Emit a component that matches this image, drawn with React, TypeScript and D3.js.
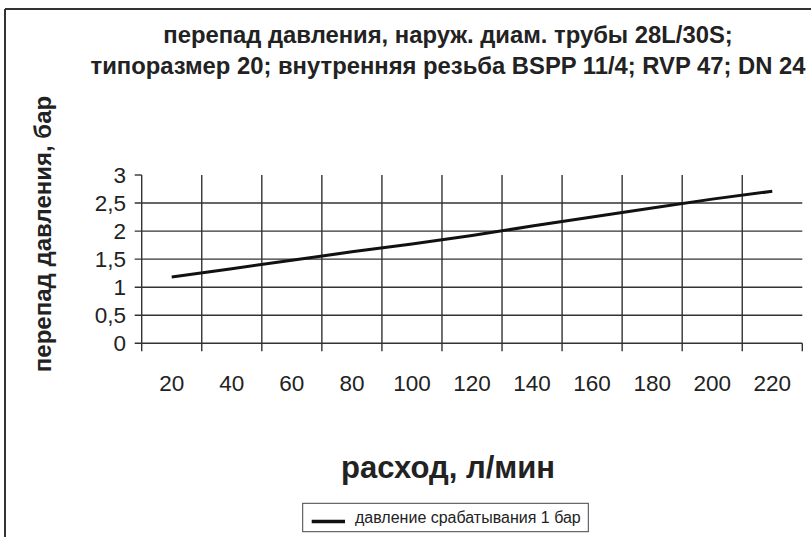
import React from "react";
import * as d3 from "d3";

const categories = ["20", "40", "60", "80", "100", "120", "140", "160", "180", "200", "220"];
const seriesValues = [1.18, 1.33, 1.48, 1.63, 1.77, 1.92, 2.09, 2.25, 2.41, 2.57, 2.71];
const yTicks = [0, 0.5, 1, 1.5, 2, 2.5, 3];
const yTickLabels = ["0", "0,5", "1", "1,5", "2", "2,5", "3"];
const titleLines = [
  "перепад давления, наруж. диам. трубы 28L/30S;",
  "типоразмер 20; внутренняя резьба BSPP 11/4; RVP 47; DN 24",
];
const yTitle = "перепад давления, бар";
const xTitle = "расход, л/мин";
const legendLabel = "давление срабатывания 1 бар";

const W = 811;
const H = 537;
const FONT = "'Liberation Sans', Arial, Helvetica, sans-serif";
const INK = "#222";
const GRID = "#333";

export default function App() {
  const x = d3.scaleBand<string>().domain(categories).range([141.7, 802.3]).padding(0);
  const y = d3.scaleLinear().domain([0, 3]).range([343.3, 175]);
  const [x0, x1] = x.range();
  const bw = x.bandwidth();
  const yTop = y(3);
  const yBot = y(0);
  const tick = 7;

  const line = d3
    .line<number>()
    .x((_, i) => (x(categories[i]) as number) + bw / 2)
    .y((d) => y(d));

  const vLines = categories.map((c) => x(c) as number).slice(1);

  return (
    <svg
      width={W}
      height={H}
      style={{ position: "absolute", left: 0, top: 0, background: "#fff" }}
      fontFamily={FONT}
    >
      {/* frame */}
      <line x1={5} y1={9} x2={W} y2={9} stroke="#333" strokeWidth={2} />
      <line x1={5} y1={9} x2={5} y2={H} stroke="#333" strokeWidth={2} />

      {/* title */}
      {titleLines.map((t, i) => (
        <text
          key={i}
          x={448}
          y={43 + i * 31}
          textAnchor="middle"
          fontSize={23.8}
          fontWeight="bold"
          fill={INK}
        >
          {t}
        </text>
      ))}

      {/* horizontal grid */}
      {yTicks.map((v) => (
        <line
          key={"h" + v}
          x1={x0 - tick}
          x2={v === 3 ? x0 : x1}
          y1={y(v)}
          y2={y(v)}
          stroke={GRID}
          strokeWidth={1.4}
        />
      ))}
      {/* left axis */}
      <line x1={x0} x2={x0} y1={yTop} y2={yBot + tick + 1} stroke={GRID} strokeWidth={1.4} />
      {/* vertical grid */}
      {vLines.map((vx, i) => (
        <line key={"v" + i} x1={vx} x2={vx} y1={yTop} y2={yBot + tick + 1} stroke={GRID} strokeWidth={1.4} />
      ))}
      <line x1={x1} x2={x1} y1={yBot} y2={yBot + tick + 1} stroke={GRID} strokeWidth={1.4} />

      {/* y tick labels */}
      {yTicks.map((v, i) => (
        <text
          key={"yl" + v}
          x={126}
          y={y(v)}
          dy="0.36em"
          textAnchor="end"
          fontSize={22.5}
          fill={INK}
        >
          {yTickLabels[i]}
        </text>
      ))}

      {/* x tick labels */}
      {categories.map((c) => (
        <text
          key={"xl" + c}
          x={(x(c) as number) + bw / 2}
          y={391}
          textAnchor="middle"
          fontSize={22.5}
          fill={INK}
        >
          {c}
        </text>
      ))}

      {/* series */}
      <path d={line(seriesValues) || ""} fill="none" stroke="#111" strokeWidth={3} strokeLinejoin="round" />

      {/* y title */}
      <text
        transform={`translate(51,234) rotate(-90)`}
        textAnchor="middle"
        fontSize={24}
        fontWeight="bold"
        fill={INK}
      >
        {yTitle}
      </text>

      {/* x title */}
      <text x={448} y={478} textAnchor="middle" fontSize={31} fontWeight="bold" fill={INK}>
        {xTitle}
      </text>

      {/* legend */}
      <rect x={302.7} y={503.3} width={285.6} height={28.4} fill="#fff" stroke="#444" strokeWidth={1} />
      <line x1={311.7} x2={345} y1={521.5} y2={521.5} stroke="#111" strokeWidth={3.5} />
      <text x={355} y={523} fontSize={16} fill={INK}>
        {legendLabel}
      </text>
    </svg>
  );
}
